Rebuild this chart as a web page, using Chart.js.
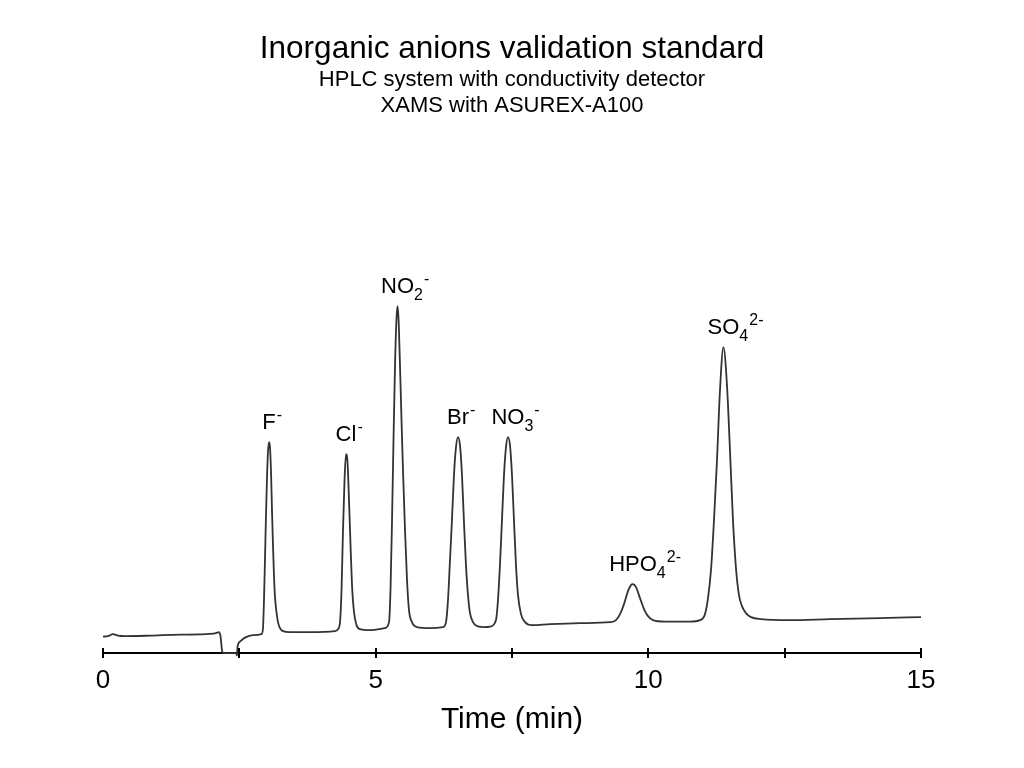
<!DOCTYPE html>
<html>
<head>
<meta charset="utf-8">
<title>Inorganic anions validation standard</title>
<script src="https://cdn.jsdelivr.net/npm/chart.js@4.4.1/dist/chart.umd.min.js"></script>
<style>
  html, body { margin: 0; padding: 0; background: #fff; }
  #wrap { width: 1024px; height: 768px; }
</style>
</head>
<body>
<div id="wrap"><canvas id="chart" width="1024" height="768"></canvas></div>
<script>
// retention time (min) and detector signal (arbitrary units)
const timeMin = [
  0.000, 0.092, 0.183, 0.275, 0.403, 0.862, 1.412, 1.779, 2.072, 2.127,
  2.155, 2.182, 2.200, 2.439, 2.457, 2.466, 2.512, 2.604, 2.751, 2.907,
  2.934, 2.952, 2.970, 2.989, 3.007, 3.025, 3.044, 3.062, 3.080, 3.099,
  3.117, 3.135, 3.154, 3.181, 3.209, 3.245, 3.301, 3.429, 3.796, 4.255,
  4.310, 4.346, 4.374, 4.401, 4.429, 4.456, 4.484, 4.511, 4.539, 4.566,
  4.603, 4.649, 4.713, 4.896, 5.171,
  5.245, 5.272, 5.300, 5.327, 5.355, 5.382, 5.401, 5.419, 5.446, 5.474,
  5.501, 5.538, 5.575, 5.611, 5.666, 5.758, 5.996, 6.235,
  6.290, 6.326, 6.363, 6.399, 6.436, 6.473, 6.510, 6.546, 6.583, 6.620,
  6.656, 6.693, 6.730, 6.785, 6.858, 7.005, 7.097,
  7.206, 7.243, 7.279, 7.316, 7.353, 7.390, 7.426, 7.463, 7.500, 7.536,
  7.573, 7.610, 7.665, 7.738, 7.866, 8.197, 8.747, 9.297,
  9.407, 9.481, 9.554, 9.627, 9.682, 9.719, 9.774, 9.847, 9.921, 9.994,
  10.086, 10.306, 10.764, 10.947,
  11.039, 11.094, 11.149, 11.204, 11.259, 11.314, 11.378, 11.442, 11.497, 11.552,
  11.607, 11.662, 11.717, 11.790, 11.882, 12.065, 12.598, 13.332, 14.249, 15.000
];
const signal = [
  1.65, 1.70, 1.90, 1.75, 1.70, 1.75, 1.85, 1.87, 2.00, 2.10,
  1.70, 0.30, 0.00, 0.00, -0.25, 0.60, 1.15, 1.55, 1.80, 1.90,
  2.5, 5.3, 9.3, 13.8, 17.5, 20.1, 21.1, 20.6, 18.3, 14.3,
  10.8, 7.8, 5.6, 4.1, 3.1, 2.5, 2.2, 2.1, 2.1, 2.2,
  2.4, 3.1, 6.3, 12.3, 17.3, 19.9, 19.1, 15.3, 10.8, 6.8,
  4.1, 2.8, 2.4, 2.3, 2.5,
  3.1, 6.3, 13.3, 21.3, 28.8, 33.5, 34.7, 33.5, 28.8, 23.3,
  18.3, 12.3, 7.3, 4.3, 3.1, 2.6, 2.5, 2.6,
  3.1, 5.3, 9.3, 13.3, 17.8, 20.6, 21.6, 20.8, 17.8, 13.0,
  8.8, 5.8, 4.0, 3.1, 2.7, 2.6, 2.65,
  3.3, 5.3, 8.8, 13.3, 17.8, 20.6, 21.6, 20.8, 17.8, 13.3,
  8.8, 5.8, 3.9, 3.1, 2.8, 2.9, 3.0, 3.1,
  3.3, 3.9, 4.9, 6.2, 6.8, 6.9, 6.6, 5.5, 4.4, 3.7,
  3.3, 3.15, 3.15, 3.3,
  3.9, 5.5, 8.3, 13.3, 19.3, 26.3, 30.6, 26.8, 20.3, 13.3,
  8.5, 5.8, 4.7, 4.0, 3.6, 3.4, 3.3, 3.4, 3.5, 3.6
];

// peak labels: main text, subscript, superscript, apex position
const peakNames = ["F", "Cl", "NO", "Br", "NO", "HPO", "SO"];
const peakSubs = ["", "", "2", "", "3", "4", "4"];
const peakSups = ["-", "-", "-", "-", "-", "2-", "2-"];
const peakTimes = [3.044, 4.456, 5.401, 6.510, 7.426, 9.719, 11.378];
const peakHeights = [21.1, 19.9, 34.7, 21.6, 21.6, 6.9, 30.6];

const xTickMajor = [0, 5, 10, 15];

const FONT = "'Liberation Sans', Arial, sans-serif";

// tick marks that cross the axis line
const crossTicks = {
  id: "crossTicks",
  afterDraw(chart) {
    const { ctx, scales: { x }, chartArea } = chart;
    ctx.save();
    ctx.strokeStyle = "#000";
    ctx.lineWidth = 2;
    x.ticks.forEach((t) => {
      const px = Math.round(x.getPixelForValue(t.value));
      ctx.beginPath();
      ctx.moveTo(px, chartArea.bottom - 5);
      ctx.lineTo(px, chartArea.bottom + 5);
      ctx.stroke();
    });
    ctx.restore();
  },
};

// ion labels with sub/superscripts above each peak
const peakLabels = {
  id: "peakLabels",
  afterDatasetsDraw(chart) {
    const { ctx, scales: { x, y } } = chart;
    const mainFont = "22px " + FONT;
    const smallFont = "16px " + FONT;
    ctx.save();
    ctx.fillStyle = "#000";
    ctx.textBaseline = "alphabetic";
    ctx.textAlign = "left";
    peakNames.forEach((name, i) => {
      const px = x.getPixelForValue(peakTimes[i]);
      const base = y.getPixelForValue(peakHeights[i]) - 13;
      ctx.font = mainFont;
      const w = ctx.measureText(name).width;
      let cx = px - w / 2;
      ctx.fillText(name, cx, base);
      cx += w;
      ctx.font = smallFont;
      if (peakSubs[i]) {
        ctx.fillText(peakSubs[i], cx, base + 7);
        cx += ctx.measureText(peakSubs[i]).width;
      }
      if (peakSups[i]) {
        ctx.fillText(peakSups[i], cx + 1, base - 9);
      }
    });
    ctx.restore();
  },
};

const ctx = document.getElementById("chart").getContext("2d");
new Chart(ctx, {
  type: "line",
  data: {
    labels: timeMin,
    datasets: [
      {
        data: timeMin.map((t, i) => ({ x: t, y: signal[i] })),
        borderColor: "#333",
        borderWidth: 1.8,
        pointRadius: 0,
        fill: false,
        cubicInterpolationMode: "monotone",
        clip: false,
      },
    ],
  },
  options: {
    responsive: false,
    animation: false,
    layout: {
      padding: { left: 103, right: 103, top: 0, bottom: 35.8 },
    },
    plugins: {
      legend: { display: false },
      tooltip: { enabled: false },
      title: {
        display: true,
        text: "Inorganic anions validation standard",
        color: "#000",
        font: { family: FONT, size: 31.5, weight: "normal", lineHeight: 1.1 },
        padding: { top: 32, bottom: 0 },
      },
      subtitle: {
        display: true,
        text: ["HPLC system with conductivity detector", "XAMS with ASUREX-A100"],
        color: "#000",
        font: { family: FONT, size: 22, weight: "normal", lineHeight: 1.2 },
        padding: { top: 0, bottom: 33.75 },
      },
    },
    scales: {
      x: {
        type: "linear",
        min: 0,
        max: 15,
        grid: { display: false, drawTicks: false },
        border: { display: true, color: "#000", width: 2 },
        ticks: {
          stepSize: 2.5,
          padding: 10,
          color: "#000",
          font: { family: FONT, size: 26, lineHeight: 1.338 },
          maxRotation: 0,
          callback: (v) => (xTickMajor.includes(v) ? String(v) : ""),
        },
        title: {
          display: true,
          text: "Time (min)",
          color: "#000",
          font: { family: FONT, size: 30, lineHeight: 0.81 },
          padding: { top: 0, bottom: 0 },
        },
      },
      y: {
        display: false,
        min: 0,
        max: 50,
      },
    },
  },
  plugins: [crossTicks, peakLabels],
});
</script>
</body>
</html>
